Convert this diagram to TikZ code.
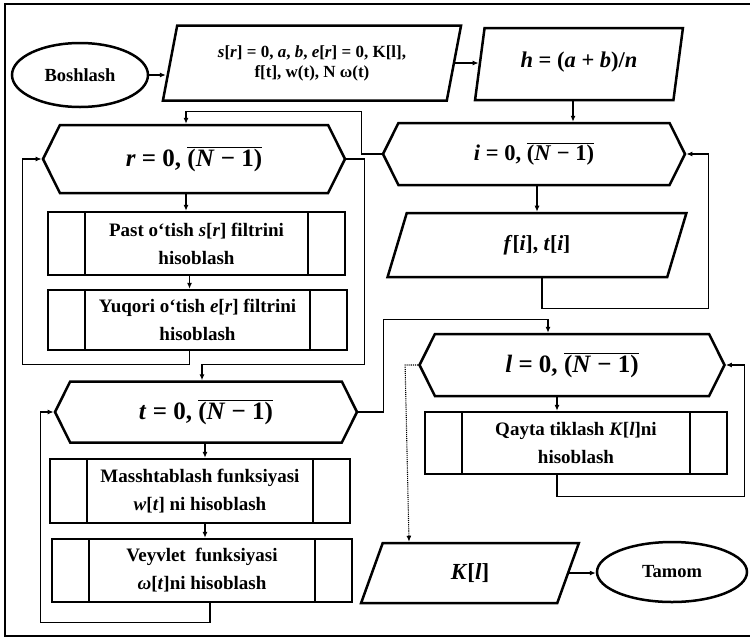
\documentclass[tikz,border=0pt]{standalone}
\usepackage{fontspec}
\setmainfont{Liberation Serif}
\usetikzlibrary{shapes.geometric,shapes.symbols,arrows.meta}
% italic letters for formulas, set in the bold text face
\newcommand{\mi}[1]{\textit{#1}}
\newcommand{\rng}[1]{\mi{#1} = 0, $\overline{\mbox{(\mi{N} − 1)}}$}

\begin{document}
\begin{tikzpicture}[x=1pt,y=-1pt,
  every node/.style={align=center, inner sep=0pt},
  shp/.style={draw, line width=2.5pt, line join=miter},
  term/.style={shp, ellipse, font=\fontsize{18.5pt}{21pt}\selectfont\bfseries},
  io/.style={shp, trapezium, trapezium left angle=76, trapezium right angle=104,
             trapezium stretches=true},
  loophex/.style={shp, signal, signal to=west and east, signal pointer angle=127,
                  font=\fontsize{25pt}{27pt}\selectfont\bfseries\boldmath},
  proc/.style={shp, rectangle, font=\fontsize{19pt}{28pt}\selectfont\bfseries\boldmath,
    path picture={\draw[line width=2.2pt]
      ([xshift=37pt]path picture bounding box.north west) -- ([xshift=37pt]path picture bounding box.south west)
      ([xshift=-37pt]path picture bounding box.north east) -- ([xshift=-37pt]path picture bounding box.south east);}},
  conn/.style={line width=1.1pt, -{Latex[length=6pt,width=5pt]}},
  ]
\useasboundingbox (0,0) rectangle (750,638);

% outer frame
\draw[line width=2pt] (752,4) -- (5,4) -- (5,636) -- (752,636);

% terminals
\node[term, minimum width=136pt, minimum height=64pt] (start) at (80,75) {Boshlash};
\node[term, minimum width=150pt, minimum height=60pt] (stop) at (672,572) {Tamom};

% input / output blocks
\node[io, minimum width=299pt, minimum height=75pt,
      font=\fontsize{17pt}{20pt}\selectfont\bfseries\boldmath] (in1) at (312,63)
  {\raisebox{-4pt}{\begin{tabular}{@{}c@{}}
     \mi{s}[\mi{r}] = 0, \mi{a}, \mi{b}, \mi{e}[\mi{r}] = 0, K[l],\\ f[t], w(t), N ω(t)
   \end{tabular}}};
\node[io, minimum width=208pt, minimum height=72pt,
      font=\fontsize{22.5pt}{24pt}\selectfont\bfseries\boldmath] (hcalc) at (579,64)
  {\raisebox{8pt}{\mi{h} = (\mi{a} + \mi{b})/\mi{n}}};
\node[io, minimum width=300pt, minimum height=64pt,
      font=\fontsize{21.5pt}{24pt}\selectfont\bfseries\boldmath] (fti) at (537,245)
  {\mi{f}[\mi{i}], \mi{t}[\mi{i}]};
\node[io, minimum width=218pt, minimum height=60pt,
      font=\fontsize{23pt}{24pt}\selectfont\bfseries\boldmath] (kl) at (470,573)
  {\mi{K}[\mi{l}]};

% loop headers
\node[loophex, minimum width=302pt, minimum height=68pt] (rhex) at (194,159)
  {\rng{r}};
\node[loophex, minimum width=302pt, minimum height=62pt,
      font=\fontsize{22.5pt}{24pt}\selectfont\bfseries\boldmath] (ihex) at (534,154)
  {\rng{i}};
\node[loophex, minimum width=302pt, minimum height=61pt] (thex) at (206,412)
  {\rng{t}};
\node[loophex, minimum width=305pt, minimum height=62pt] (lhex) at (572,365)
  {\rng{l}};

% predefined processes
\node[proc, minimum width=297pt, minimum height=63pt] (past) at (196.5,243.5)
  {Past o‘tish \mi{s}[\mi{r}] filtrini\\hisoblash};
\node[proc, minimum width=299pt, minimum height=60pt] (yuq) at (197.5,320)
  {Yuqori o‘tish \mi{e}[\mi{r}] filtrini\\hisoblash};
\node[proc, minimum width=300pt, minimum height=64pt] (mass) at (200,491)
  {Masshtablash funksiyasi\\\mi{w}[\mi{t}] ni hisoblash};
\node[proc, minimum width=300pt, minimum height=63pt] (vey) at (202,570.5)
  {Veyvlet\ \ funksiyasi\\\mi{ω}[\mi{t}]ni hisoblash};
\node[proc, minimum width=302pt, minimum height=62pt] (qayta) at (576,443)
  {Qayta tiklash \mi{K}[\mi{l}]ni\\hisoblash};

% main flow
\draw[conn] (start.east) -- ([xshift=-3pt]start.east -| in1.west);
\draw[conn] (in1.east) -- (in1.east -| hcalc.west);
\draw[conn] ([xshift=-6pt]hcalc.south) -- ([xshift=-6pt]hcalc.south |- ihex.north);
\draw[conn] (ihex.west) -- ++(-20,0) |- ([xshift=-8pt,yshift=12pt]rhex.north) -- ([xshift=-8pt]rhex.north);
\draw[conn] ([xshift=-8pt]rhex.south) -- ([xshift=-8pt]rhex.south |- past.north);
\draw[conn] ([xshift=-7pt]past.south) -- ([xshift=-7pt]past.south |- yuq.north);
\draw[conn] ([xshift=-8pt]yuq.south) -- ++(0,13) -| ([xshift=-19pt]rhex.west) -- (rhex.west);
\draw[conn] (rhex.east) -- ++(18,0) |- ([xshift=-4pt,yshift=16pt]thex.north) -- ([xshift=-4pt]thex.north);
\draw[conn] ([xshift=-1pt]thex.south) -- ([xshift=-1pt]thex.south |- mass.north);
\draw[conn] ([xshift=5pt]mass.south) -- ([xshift=5pt]mass.south |- vey.north);
\draw[conn] ([xshift=8pt]vey.south) -- ++(0,19) -| ([xshift=-13pt]thex.west) -- (thex.west);
\draw[conn] (thex.east) -- ++(25,0) |- ([xshift=-24pt,yshift=13pt]lhex.north) -- ([xshift=-24pt]lhex.north);
\draw[conn] ([xshift=3pt]ihex.south) -- ([xshift=3pt]ihex.south |- fti.north);
\draw[conn] ([xshift=5pt]fti.south) -- ++(0,30) -| ([xshift=22pt]ihex.east) -- (ihex.east);
\draw[conn] ([xshift=-15pt]lhex.south) -- ([xshift=-15pt]lhex.south |- qayta.north);
\draw[conn] ([xshift=-19pt]qayta.south) -- ++(0,21) -| ([xshift=19pt]lhex.east) -- (lhex.east);
\draw[conn, densely dotted] (lhex.west) -- ++(-13,0) -- ([xshift=-61pt]kl.north);
\draw[conn] (kl.east) -- (kl.east -| stop.west);
\end{tikzpicture}
\end{document}
